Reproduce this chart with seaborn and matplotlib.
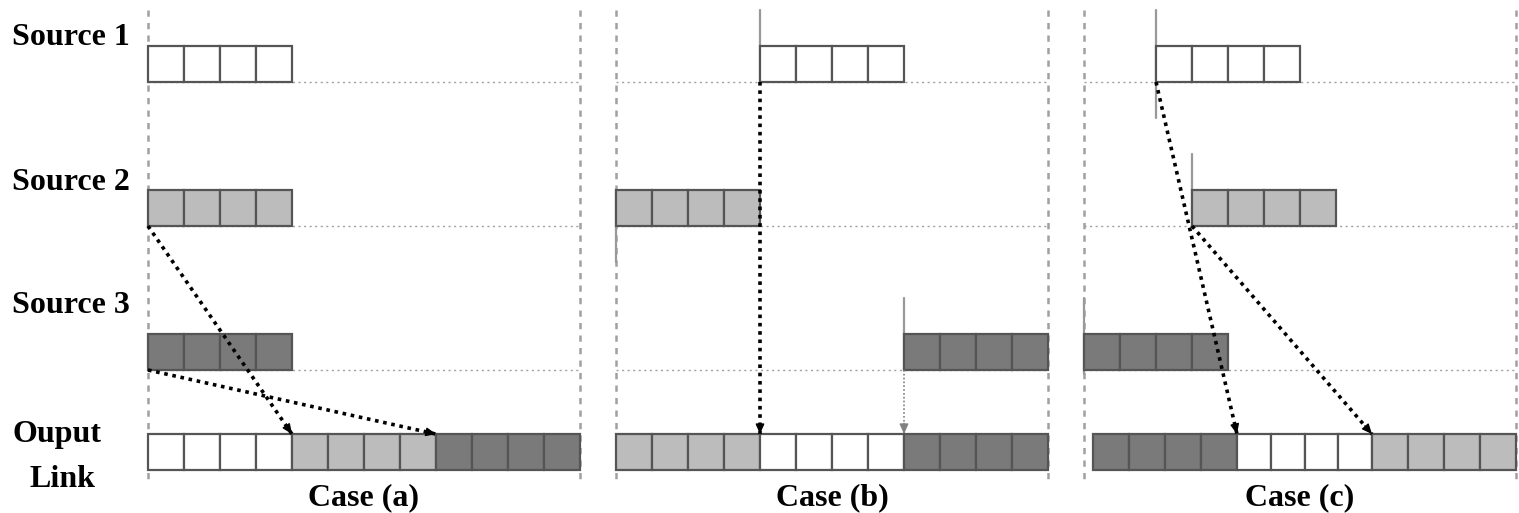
import numpy as np
import matplotlib
matplotlib.use("Agg")
import matplotlib.pyplot as plt
import seaborn as sns

# ---- scenario data (slot units; one slot = one packet cell) ----
source_names = ["Source 1", "Source 2", "Source 3"]
case_names = ["Case (a)", "Case (b)", "Case (c)"]
cells_per_burst = 4
slots_per_case = 12

# arrival slot of each source's burst, per case
arrival_a = [0, 0, 0]
arrival_b = [4, 0, 8]
arrival_c = [2, 3, 0]

# output link schedule per case: source index, start slot, end slot
out_src_a = [0, 1, 2]
out_start_a = [0, 4, 8]
out_end_a = [4, 8, 12]
out_src_b = [1, 0, 2]
out_start_b = [0, 4, 8]
out_end_b = [4, 8, 12]
out_src_c = [2, 0, 1]
out_start_c = [0.25, 4.25, 8]
out_end_c = [4.25, 8, 12]

# arrows: (source index, slot where it lands on the output link)
arrows_a = [(1, 4), (2, 8)]
arrows_b = [(0, 4), (2, 8)]
arrows_c = [(0, 4.25), (1, 8)]

cases = [
    (arrival_a, out_src_a, out_start_a, out_end_a, arrows_a),
    (arrival_b, out_src_b, out_start_b, out_end_b, arrows_b),
    (arrival_c, out_src_c, out_start_c, out_end_c, arrows_c),
]

# ---- styling ----
sns.set_theme(style="white")
plt.rcParams["font.family"] = ["Liberation Serif", "DejaVu Serif"]
plt.rcParams["text.color"] = "black"
fill_colors = ["#ffffff", "#bcbcbc", "#7a7a7a"]
edge_color = "#555555"
guide_color = "#a0a0a0"
label_size = 23

W, H = 1519, 513
fig = plt.figure(figsize=(W / 100, H / 100), dpi=100)
ax = fig.add_axes([0, 0, 1, 1])
unit = 36.0
x0_px, y0_px = 148.0, 82.0
ax.set_xlim(-x0_px / unit, (W - x0_px) / unit)
ax.set_ylim((H - y0_px) / unit, -y0_px / unit)
ax.axis("off")

source_rows = [0.0, 4.0, 8.0]          # bottom edge of each source lane
output_row = 10.78                     # bottom edge of the output lane
case_gap = 13                          # slots between case origins
guide_top, guide_bottom = -2.0, 11.2

# vertical spans of the arrival markers (relative to lane top / bottom)
marker_spans = [
    [None, None, None],
    [(-1, 0), (0, 1), (-1, 0)],
    [(-1, 1), (-1, 0), (-1, 0.1)],
]


def draw_burst(x_start, x_end, lane_bottom, color):
    w = (x_end - x_start) / cells_per_burst
    xs = x_start + np.arange(cells_per_burst) * w
    ax.bar(xs, np.ones(cells_per_burst), width=w, bottom=lane_bottom - 1,
           align="edge", color=color, edgecolor=edge_color, linewidth=1.6,
           zorder=3)


for k, (arrivals, osrc, ostart, oend, arrows) in enumerate(cases):
    off = k * case_gap
    # case boundaries
    for xb in (off, off + slots_per_case):
        ax.plot([xb, xb], [guide_top, guide_bottom], color=guide_color,
                lw=1.8, ls=(0, (2.5, 2.5)), zorder=1)
    # lane baselines
    for r in source_rows:
        ax.plot([off, off + slots_per_case], [r, r], color=guide_color,
                lw=1.0, ls=(0, (1.5, 2.5)), zorder=1)
    # source bursts and arrival markers
    for s, a in enumerate(arrivals):
        r = source_rows[s]
        draw_burst(off + a, off + a + cells_per_burst, r, fill_colors[s])
        span = marker_spans[k][s]
        if span is not None:
            ax.plot([off + a, off + a], [r - 1 + span[0], r + span[1]],
                    color="#999999", lw=1.6, zorder=2)
    # output link
    for s, a, b in zip(osrc, ostart, oend):
        draw_burst(off + a, off + b, output_row, fill_colors[s])
    # forwarding arrows
    for j, (s, land) in enumerate(arrows):
        xa, ya = off + arrivals[s], source_rows[s]
        xb, yb = off + land, output_row - 1
        faint = (k == 1 and j == 1)
        col = "#808080" if faint else "black"
        lw = 1.2 if faint else 2.6
        ax.plot([xa, xb], [ya, yb], color=col, lw=lw,
                ls=(0, (1.0, 1.3)), zorder=4)
        d = np.array([xb - xa, yb - ya])
        d = d / np.hypot(*d)
        ax.annotate("", xy=(xb, yb), xytext=(xb - d[0] * 0.3, yb - d[1] * 0.3),
                    arrowprops=dict(arrowstyle="-|>,head_length=0.5,head_width=0.22",
                                    color=col, lw=1.0, shrinkA=0, shrinkB=0),
                    zorder=5)
    # case caption
    fig.text((x0_px + unit * (off + slots_per_case / 2)) / W, 1 - 505 / H,
             case_names[k], ha="center", va="baseline", fontsize=label_size,
             fontweight="bold", color="black")

# lane labels
label_baselines = [45, 190, 313]
for name, yb in zip(source_names, label_baselines):
    fig.text(12 / W, 1 - yb / H, name, ha="left", va="baseline",
             fontsize=label_size, fontweight="bold", color="black")
fig.text(57 / W, 1 - 442 / H, "Ouput", ha="center", va="baseline",
         fontsize=label_size, fontweight="bold", color="black")
fig.text(63 / W, 1 - 487 / H, "Link", ha="center", va="baseline",
         fontsize=label_size, fontweight="bold", color="black")

fig.savefig("out.png", dpi=100, facecolor="white")
